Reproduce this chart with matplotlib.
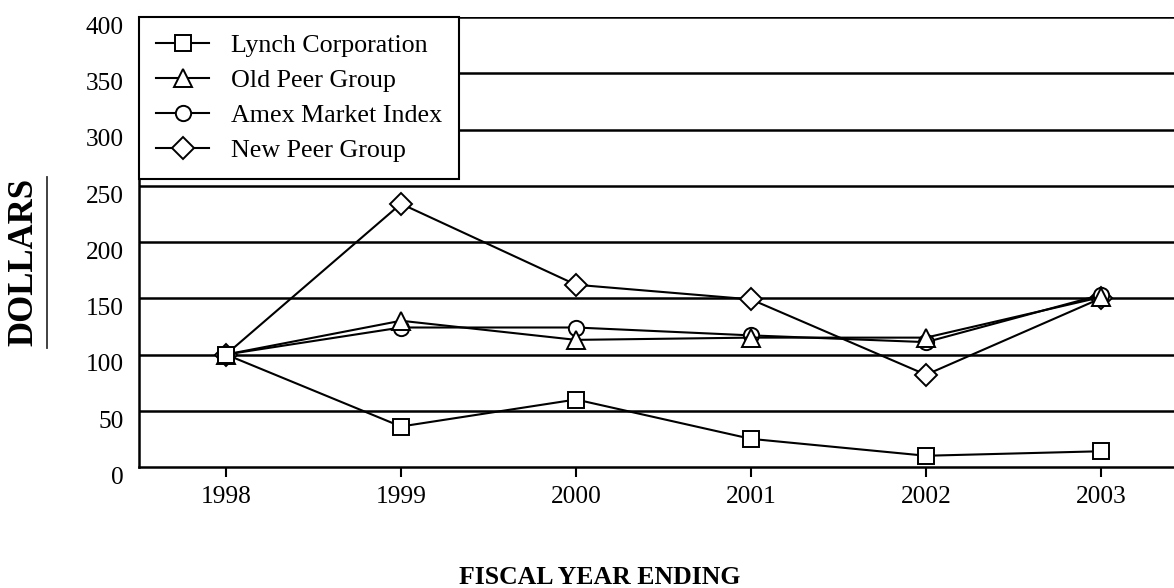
import matplotlib
matplotlib.use("Agg")
import matplotlib.pyplot as plt
from matplotlib.transforms import ScaledTranslation
from matplotlib.lines import Line2D

years = [1998, 1999, 2000, 2001, 2002, 2003]
lynch = [100, 36, 60, 25, 10, 14]
old_peer = [100, 130, 113, 115, 115, 151]
amex = [100, 124, 124, 117, 111, 153]
new_peer = [100, 234, 162, 149, 82, 150]
y_ticks = [0, 50, 100, 150, 200, 250, 300, 350, 400]

plt.rcParams['font.family'] = ['Liberation Serif', 'DejaVu Serif']

W, H = 1174, 588
fig = plt.figure(figsize=(W / 100, H / 100), dpi=100)
ax = fig.add_axes([139 / W, 1 - 467 / H, 1 - 139 / W, 450 / H])

for v in y_ticks[1:]:
    ax.axhline(v, color='black', lw=1.8, zorder=1)

common = dict(color='black', lw=1.5, markerfacecolor='white',
              markeredgecolor='black', markeredgewidth=1.4, zorder=3)
h_new, = ax.plot(years, new_peer, marker='D', markersize=11, label='New Peer Group', **common)
h_amex, = ax.plot(years, amex, marker='o', markersize=11, label='Amex Market Index', **common)
h_old, = ax.plot(years, old_peer, marker='^', markersize=13, label='Old Peer Group', **common)
h_lynch, = ax.plot(years, lynch, marker='s', markersize=11, label='Lynch Corporation', **common)

ax.set_xlim(1998 - 0.497, 2003 + 0.417)
ax.set_ylim(0, 400)
ax.set_xticks(years)
ax.set_xticklabels([str(y) for y in years])
ax.set_yticks(y_ticks)
ax.set_yticklabels([str(v) for v in y_ticks])

for s in ['right', 'top']:
    ax.spines[s].set_visible(False)
for s in ['left', 'bottom']:
    ax.spines[s].set_linewidth(1.8)

ax.tick_params(axis='x', direction='out', length=7, width=1.5, pad=7, labelsize=18.3)
ax.tick_params(axis='y', length=0, pad=11, labelsize=18.3)
off = ScaledTranslation(0, -6 / 72, fig.dpi_scale_trans)
for lab in ax.get_yticklabels():
    lab.set_transform(lab.get_transform() + off)

leg = ax.legend(handles=[h_lynch, h_old, h_amex, h_new], loc='upper left',
                bbox_to_anchor=(0, 1), borderaxespad=0, fancybox=False,
                edgecolor='black', framealpha=1, fontsize=18.7, handlelength=2.05,
                handletextpad=0.85, borderpad=0.65, labelspacing=0.45)
leg.get_frame().set_linewidth(1.5)
leg.set_zorder(5)

fig.text(24 / W, 1 - 262 / H, 'DOLLARS', rotation=90, ha='center', va='center',
         fontsize=25, fontweight='bold')
fig.add_artist(Line2D([47 / W, 47 / W], [1 - 177 / H, 1 - 348 / H],
                      color='#333333', lw=1.3, transform=fig.transFigure))
fig.text(600 / W, 1 - 578 / H, 'FISCAL YEAR ENDING', ha='center', va='center',
         fontsize=18.5, fontweight='bold')

fig.savefig('out.png', dpi=100)
